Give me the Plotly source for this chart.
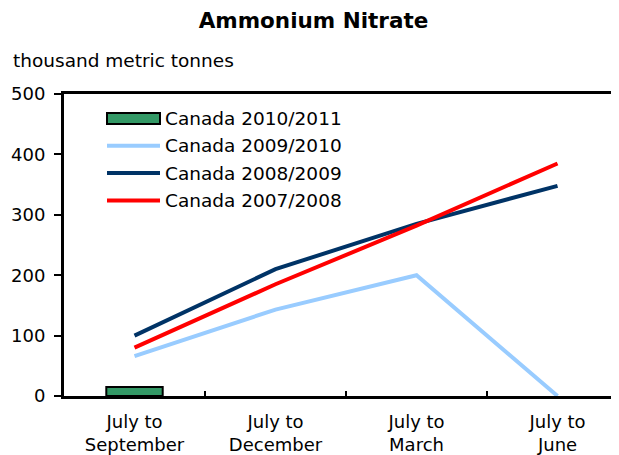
import plotly.graph_objects as go

periods = ["July to<br>September", "July to<br>December", "July to<br>March", "July to<br>June"]

canada_2010_11 = [15]
canada_2009_10 = [66, 143, 200, 0]
canada_2008_09 = [100, 210, 285, 348]
canada_2007_08 = [80, 185, 282, 385]

series_names = ["Canada 2010/2011", "Canada 2009/2010", "Canada 2008/2009", "Canada 2007/2008"]
series_colors = ["#339966", "#99CCFF", "#003366", "#FF0000"]

FONT = "DejaVu Sans"
W, H = 611, 447
L, R, T, B = 56, 0, 86, 59


def px_x(x):
    return (x - L) / (W - L - R)


def px_y(y):
    return (H - B - y) / (H - T - B)


fig = go.Figure()
fig.add_trace(go.Bar(
    name=series_names[0], x=periods[:1], y=canada_2010_11, width=0.4,
    marker=dict(color=series_colors[0], line=dict(color="#000000", width=2)),
))
for name, vals, col in zip(series_names[1:],
                           [canada_2009_10, canada_2008_09, canada_2007_08],
                           series_colors[1:]):
    fig.add_trace(go.Scatter(name=name, x=periods, y=vals, mode="lines",
                             line=dict(color=col, width=4)))

# legend drawn by hand so the bar swatch can be a wide box like the original
shapes = []
annotations = []
for i, (name, col) in enumerate(zip(series_names, series_colors)):
    yc = 110.5 + 27.3 * i
    if i == 0:
        shapes.append(dict(type="rect", xref="paper", yref="paper",
                           x0=px_x(99), x1=px_x(152), y0=px_y(yc - 5.5), y1=px_y(yc + 5.5),
                           fillcolor=col, line=dict(color="#000000", width=2)))
    else:
        shapes.append(dict(type="line", xref="paper", yref="paper",
                           x0=px_x(99), x1=px_x(152), y0=px_y(yc), y1=px_y(yc),
                           line=dict(color=col, width=4)))
    annotations.append(dict(text=name, xref="paper", yref="paper", x=px_x(155), y=px_y(yc),
                            xanchor="left", yanchor="middle", showarrow=False,
                            font=dict(size=18.5)))

annotations.append(dict(text="thousand metric tonnes", xref="paper", yref="paper",
                        x=px_x(3), y=px_y(52), xanchor="left", yanchor="middle",
                        showarrow=False, font=dict(size=18.5)))

fig.update_layout(
    width=W,
    height=H,
    margin=dict(l=L, r=R, t=T, b=B),
    paper_bgcolor="white",
    plot_bgcolor="white",
    font=dict(family=FONT, size=18, color="#000000"),
    title=dict(text="<b>Ammonium Nitrate</b>", x=0.5, xanchor="center",
               y=1 - 12 / H, yanchor="middle", font=dict(size=21.5)),
    showlegend=False,
    shapes=shapes,
    annotations=annotations,
)
fig.update_xaxes(
    type="category", range=[-0.5, 3.436], showline=True, linecolor="#000000",
    linewidth=3, mirror=True, ticks="inside", tickson="boundaries", ticklen=5,
    tickwidth=2, tickcolor="#000000", showgrid=False, zeroline=False,
    ticklabelstandoff=7,
)
fig.update_yaxes(
    range=[0, 500], dtick=100, showline=True, linecolor="#000000", linewidth=3,
    ticks="outside", ticklen=7, tickwidth=2, tickcolor="#000000",
    showgrid=False, zeroline=False, ticklabelstandoff=5,
)

fig.write_html("out.html")
